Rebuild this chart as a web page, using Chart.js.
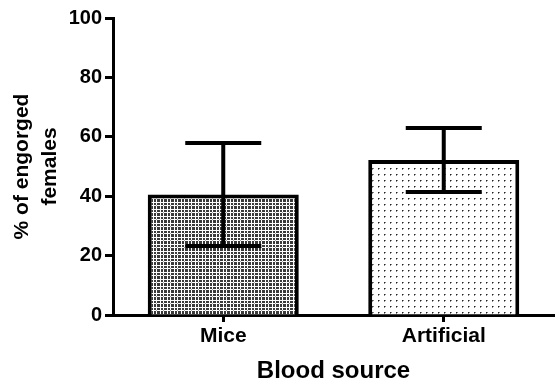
<!DOCTYPE html>
<html>
<head>
<meta charset="utf-8">
<script src="https://cdn.jsdelivr.net/npm/chart.js@4"></script>
<style>
  body { margin: 0; background: #fff; }
</style>
</head>
<body>
<canvas id="myChart" width="558" height="383"></canvas>
<script>
const categories = ['Mice', 'Artificial'];
const meanValues = [40.6, 52.2];
const errUpper = [57.9, 63.0];
const errLower = [23.2, 41.4];
const yTicks = [0, 20, 40, 60, 80, 100];

// fill patterns for the two bars
function makePattern(size, draw) {
  const c = document.createElement('canvas');
  c.width = size[0]; c.height = size[1];
  const g = c.getContext('2d');
  g.fillStyle = '#fff';
  g.fillRect(0, 0, c.width, c.height);
  draw(g);
  return document.getElementById('myChart').getContext('2d').createPattern(c, 'repeat');
}
const checker = makePattern([7, 7], g => {
  g.fillStyle = '#3a3a3a';
  g.fillRect(0, 0, 2, 2);
  g.fillRect(3, 0, 3, 2);
  g.fillRect(0, 3, 2, 3);
  g.fillRect(3, 3, 3, 3);
  g.fillStyle = '#aaa';
  g.fillRect(2, 2, 1, 1);
});
const dots = makePattern([6, 6], g => {
  g.fillStyle = '#222';
  g.fillRect(0, 0, 1, 1);
  g.fillStyle = '#888';
  g.fillRect(1, 0, 1, 1);
  g.fillRect(0, 1, 1, 1);
});

// error bars drawn on top using the scales
const errorBars = {
  id: 'errorBars',
  afterDatasetsDraw(chart) {
    const ctx = chart.ctx;
    const y = chart.scales.y;
    const meta = chart.getDatasetMeta(0);
    ctx.save();
    ctx.strokeStyle = '#000';
    ctx.lineWidth = 4;
    ctx.lineCap = 'butt';
    meta.data.forEach((bar, i) => {
      const x = bar.x;
      const yTop = y.getPixelForValue(errUpper[i]);
      const yBot = y.getPixelForValue(errLower[i]);
      const half = 38;
      ctx.beginPath();
      ctx.moveTo(x, yTop);
      ctx.lineTo(x, yBot);
      ctx.moveTo(x - half, yTop);
      ctx.lineTo(x + half, yTop);
      ctx.moveTo(x - half, yBot);
      ctx.lineTo(x + half, yBot);
      ctx.stroke();
    });
    ctx.restore();
  }
};

const boldFont = 'Arial, "Liberation Sans"';

new Chart(document.getElementById('myChart'), {
  type: 'bar',
  data: {
    labels: categories,
    datasets: [{
      data: meanValues,
      backgroundColor: [checker, dots],
      borderColor: '#000',
      borderWidth: 4,
      borderSkipped: 'bottom',
      categoryPercentage: 1,
      barPercentage: 0.685
    }]
  },
  options: {
    responsive: false,
    animation: false,
    devicePixelRatio: 1,
    layout: { padding: { top: 18, right: 4 } },
    plugins: { legend: { display: false }, tooltip: { enabled: false } },
    scales: {
      x: {
        grid: { offset: false, drawOnChartArea: false, drawTicks: true, tickLength: 7, tickWidth: 3, tickColor: '#000' },
        border: { display: true, color: '#000', width: 3 },
        ticks: { color: '#000', font: { family: boldFont, size: 21, weight: 'bold' }, padding: 2 },
        title: { display: true, text: 'Blood source', color: '#000', font: { family: boldFont, size: 24, weight: 'bold' }, padding: { top: 6, bottom: -3 } },
        afterFit(s) { s.height = 68; }
      },
      y: {
        min: 0, max: 100,
        ticks: { stepSize: 20, autoSkip: false, color: '#000', font: { family: boldFont, size: 20, weight: 'bold' }, padding: 3 },
        afterBuildTicks(s) { s.ticks = yTicks.map(v => ({ value: v })); },
        grid: { drawOnChartArea: false, drawTicks: true, tickLength: 8, tickWidth: 3, tickColor: '#000' },
        border: { display: true, color: '#000', width: 3 },
        title: { display: true, text: ['% of engorged', 'females'], color: '#000', font: { family: boldFont, size: 21, weight: 'bold', lineHeight: 1.3 }, padding: { top: 9, bottom: 0 } },
        afterFit(s) { s.width = 113; }
      }
    }
  },
  plugins: [errorBars]
});
</script>
</body>
</html>
